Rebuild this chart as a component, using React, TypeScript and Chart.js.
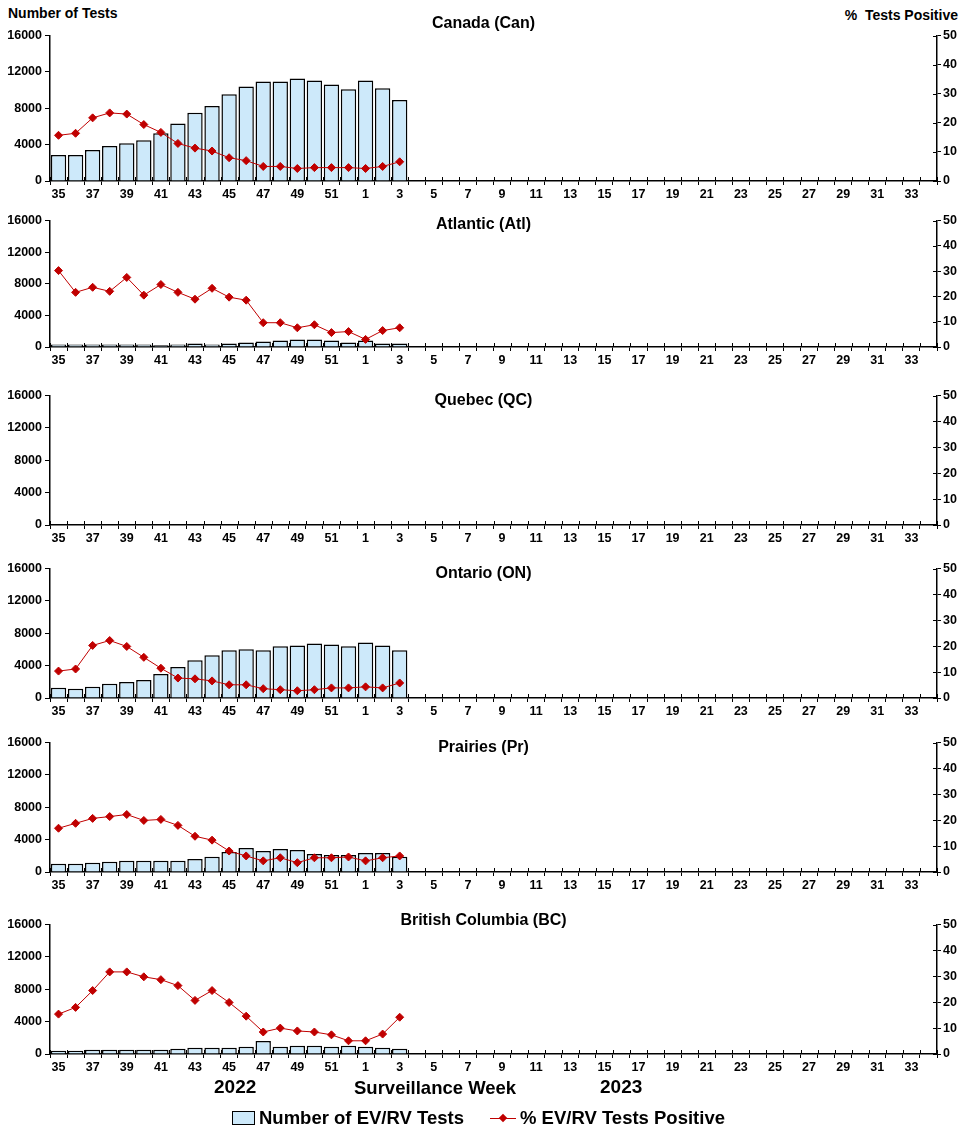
import React, { useEffect, useRef } from "react";
import { Chart, registerables } from "chart.js";

Chart.register(...registerables);

const weeks: string[] = [
  "35","36","37","38","39","40","41","42","43","44","45","46","47","48","49","50","51","52",
  "1","2","3","4","5","6","7","8","9","10","11","12","13","14","15","16","17","18","19","20",
  "21","22","23","24","25","26","27","28","29","30","31","32","33","34",
];

const leftTicks = [0, 4000, 8000, 12000, 16000];
const rightTicks = [0, 10, 20, 30, 40, 50];

const canadaTests = [2870, 2870, 3400, 3840, 4160, 4480, 5240, 6310, 7500, 8250, 9540, 10400, 10940, 10940, 11260, 11050, 10620, 10080, 11050, 10190, 8900];
const canadaPct = [15.7, 16.4, 21.7, 23.4, 23.0, 19.4, 16.7, 12.9, 11.3, 10.3, 8.0, 7.0, 5.0, 5.0, 4.3, 4.6, 4.6, 4.6, 4.3, 5.0, 6.6];

const atlanticTests = [330, 330, 330, 330, 330, 330, 210, 330, 450, 330, 450, 580, 700, 830, 950, 950, 830, 580, 830, 450, 450];
const atlanticPct = [30.2, 21.6, 23.6, 22.0, 27.5, 20.5, 24.7, 21.6, 18.9, 23.2, 19.7, 18.5, 9.6, 9.6, 7.6, 8.8, 5.7, 6.1, 3.0, 6.5, 7.6];

const quebecTests: number[] = [];
const quebecPct: number[] = [];

const ontarioTests = [1260, 1140, 1380, 1750, 1990, 2230, 2960, 3820, 4670, 5280, 5890, 6010, 5890, 6380, 6500, 6740, 6620, 6380, 6860, 6500, 5890];
const ontarioPct = [10.4, 11.2, 20.3, 22.2, 19.9, 15.7, 11.5, 7.7, 7.4, 6.6, 5.1, 5.1, 3.6, 3.2, 2.8, 3.2, 3.9, 3.9, 4.3, 3.9, 5.8];

const prairiesTests = [1015, 1015, 1140, 1260, 1380, 1380, 1380, 1380, 1620, 1870, 2480, 2960, 2600, 2840, 2720, 2230, 2110, 2110, 2360, 2360, 1870];
const prairiesPct = [16.9, 18.8, 20.7, 21.4, 22.2, 19.9, 20.3, 18.0, 13.8, 12.3, 8.1, 6.2, 4.3, 5.5, 3.6, 5.5, 5.5, 5.8, 4.3, 5.5, 6.2];

const bcTests = [410, 410, 530, 530, 530, 530, 530, 650, 770, 770, 770, 890, 1620, 890, 1015, 1015, 890, 1015, 890, 770, 650];
const bcPct = [15.4, 18.0, 24.5, 31.7, 31.7, 29.8, 28.7, 26.4, 20.7, 24.5, 19.9, 14.6, 8.5, 10.0, 8.9, 8.5, 7.4, 5.1, 5.1, 7.7, 14.2];

const BAR_FILL = "#cde9fa";
const LINE_RED = "#c00000";
const FONT = "'Liberation Sans', Arial, sans-serif";

type Panel = { title: string; tests: number[]; pct: number[]; top: number; bottom: number; titleY: number };

const panels: Panel[] = [
  { title: "Canada (Can)", tests: canadaTests, pct: canadaPct, top: 33, bottom: 181, titleY: 23 },
  { title: "Atlantic (Atl)", tests: atlanticTests, pct: atlanticPct, top: 218, bottom: 347, titleY: 224 },
  { title: "Quebec (QC)", tests: quebecTests, pct: quebecPct, top: 393, bottom: 525, titleY: 400 },
  { title: "Ontario (ON)", tests: ontarioTests, pct: ontarioPct, top: 566, bottom: 698, titleY: 573 },
  { title: "Prairies (Pr)", tests: prairiesTests, pct: prairiesPct, top: 740, bottom: 872, titleY: 747 },
  { title: "British Columbia (BC)", tests: bcTests, pct: bcPct, top: 922, bottom: 1054, titleY: 920 },
];

const PAD_TOP = 8;
const X_AXIS_H = 26;
const LEFT_W = 50;
const RIGHT_W = 30;
const WIDTH = 967;

const innerTicks = {
  id: "innerTicks",
  afterDraw(chart: any) {
    const ctx = chart.ctx;
    const yr = chart.scales.y1;
    const area = chart.chartArea;
    ctx.save();
    ctx.strokeStyle = "#000";
    ctx.lineWidth = 1;
    const n = weeks.length;
    const w = (area.right - area.left) / n;
    for (let i = 0; i <= n; i++) {
      const x = Math.round(area.left + i * w) + 0.5;
      ctx.beginPath();
      ctx.moveTo(x, area.bottom - 4);
      ctx.lineTo(x, area.bottom);
      ctx.stroke();
    }
    rightTicks.forEach((v) => {
      const y = Math.round(yr.getPixelForValue(v)) + 0.5;
      ctx.beginPath();
      ctx.moveTo(area.right - 4, y);
      ctx.lineTo(area.right, y);
      ctx.stroke();
    });
    ctx.restore();
  },
};

function PanelChart({ p }: { p: Panel }) {
  const ref = useRef<HTMLCanvasElement>(null);
  const height = p.bottom - p.top + PAD_TOP + X_AXIS_H;
  useEffect(() => {
    if (!ref.current) return;
    const chart = new Chart(ref.current, {
      type: "bar",
      data: {
        labels: weeks,
        datasets: [
          {
            type: "line" as const,
            label: "% EV/RV Tests Positive",
            data: p.pct,
            yAxisID: "y1",
            borderColor: LINE_RED,
            backgroundColor: LINE_RED,
            borderWidth: 1,
            pointStyle: "rectRot",
            pointRadius: 4,
            pointBackgroundColor: LINE_RED,
            pointBorderColor: LINE_RED,
            tension: 0,
            order: 0,
          },
          {
            type: "bar" as const,
            label: "Number of EV/RV Tests",
            data: p.tests,
            yAxisID: "y",
            backgroundColor: BAR_FILL,
            borderColor: "#000",
            borderWidth: 1.5,
            barPercentage: 0.9,
            categoryPercentage: 1.0,
            order: 1,
          },
        ],
      },
      options: {
        animation: false,
        responsive: false,
        maintainAspectRatio: false,
        layout: { padding: { top: PAD_TOP, left: 0, right: 0, bottom: 0 } },
        plugins: { legend: { display: false }, tooltip: { enabled: false }, title: { display: false } },
        scales: {
          x: {
            type: "category",
            offset: true,
            grid: { display: true, drawOnChartArea: false, drawTicks: true, tickLength: 4, color: "#000", offset: true },
            border: { display: true, color: "#000", width: 1.5 },
            ticks: {
              autoSkip: false,
              maxRotation: 0,
              minRotation: 0,
              padding: 2,
              color: "#000",
              font: { family: FONT, size: 12.5, weight: "bold" },
              callback: (_v: any, i: number) => (i % 2 === 0 ? weeks[i] : ""),
            },
            afterFit: (s: any) => { s.height = X_AXIS_H; },
          },
          y: {
            position: "left",
            min: 0,
            max: 16000,
            afterBuildTicks: (s: any) => { s.ticks = leftTicks.map((v) => ({ value: v })); },
            grid: { display: true, drawOnChartArea: false, drawTicks: true, tickLength: 5, color: "#000" },
            border: { display: true, color: "#000", width: 1.5 },
            ticks: {
              color: "#000",
              padding: 3,
              font: { family: FONT, size: 12.5, weight: "bold" },
              callback: (v: any) => String(v),
            },
            afterFit: (s: any) => { s.width = LEFT_W; },
          },
          y1: {
            position: "right",
            min: 0,
            max: 50,
            afterBuildTicks: (s: any) => { s.ticks = rightTicks.map((v) => ({ value: v })); },
            grid: { display: true, drawOnChartArea: false, drawTicks: true, tickLength: 4, color: "#000" },
            border: { display: true, color: "#000", width: 1.5 },
            ticks: {
              color: "#000",
              padding: 2,
              font: { family: FONT, size: 12.5, weight: "bold" },
            },
            afterFit: (s: any) => { s.width = RIGHT_W; },
          },
        },
      } as any,
      plugins: [innerTicks],
    });
    return () => chart.destroy();
  }, []);
  return (
    <>
      <canvas
        ref={ref}
        width={WIDTH}
        height={height}
        style={{ position: "absolute", left: 0, top: p.top - PAD_TOP, width: WIDTH, height }}
      />
      <div
        style={{
          position: "absolute",
          left: 0,
          width: WIDTH,
          top: p.titleY - 10,
          textAlign: "center",
          font: `bold 16px ${FONT}`,
          color: "#000",
          lineHeight: "19px",
        }}
      >
        {p.title}
      </div>
    </>
  );
}

export default function App() {
  const txt = (size: number): React.CSSProperties => ({
    position: "absolute",
    font: `bold ${size}px ${FONT}`,
    color: "#000",
    whiteSpace: "nowrap",
  });
  return (
    <div style={{ position: "absolute", left: 0, top: 0, width: WIDTH, height: 1140, background: "#fff", overflow: "hidden" }}>
      <div style={{ ...txt(14), left: 8, top: 5 }}>Number of Tests</div>
      <div style={{ ...txt(14), right: 9, top: 7 }}>%&nbsp; Tests Positive</div>
      {panels.map((p) => (
        <PanelChart key={p.title} p={p} />
      ))}
      <div style={{ ...txt(19), left: 214, top: 1076 }}>2022</div>
      <div style={{ ...txt(18.5), left: 354, top: 1077 }}>Surveillance Week</div>
      <div style={{ ...txt(19), left: 600, top: 1076 }}>2023</div>
      <div style={{ position: "absolute", left: 232, top: 1111, width: 23, height: 14, background: BAR_FILL, border: "1.5px solid #000", boxSizing: "border-box" }} />
      <div style={{ ...txt(18.5), left: 259, top: 1107 }}>Number of EV/RV Tests</div>
      <div style={{ position: "absolute", left: 490, top: 1118, width: 26, height: 1, background: LINE_RED }} />
      <div style={{ position: "absolute", left: 500, top: 1115, width: 6, height: 6, background: LINE_RED, transform: "rotate(45deg)" }} />
      <div style={{ ...txt(18.5), left: 520, top: 1107 }}>% EV/RV Tests Positive</div>
    </div>
  );
}
